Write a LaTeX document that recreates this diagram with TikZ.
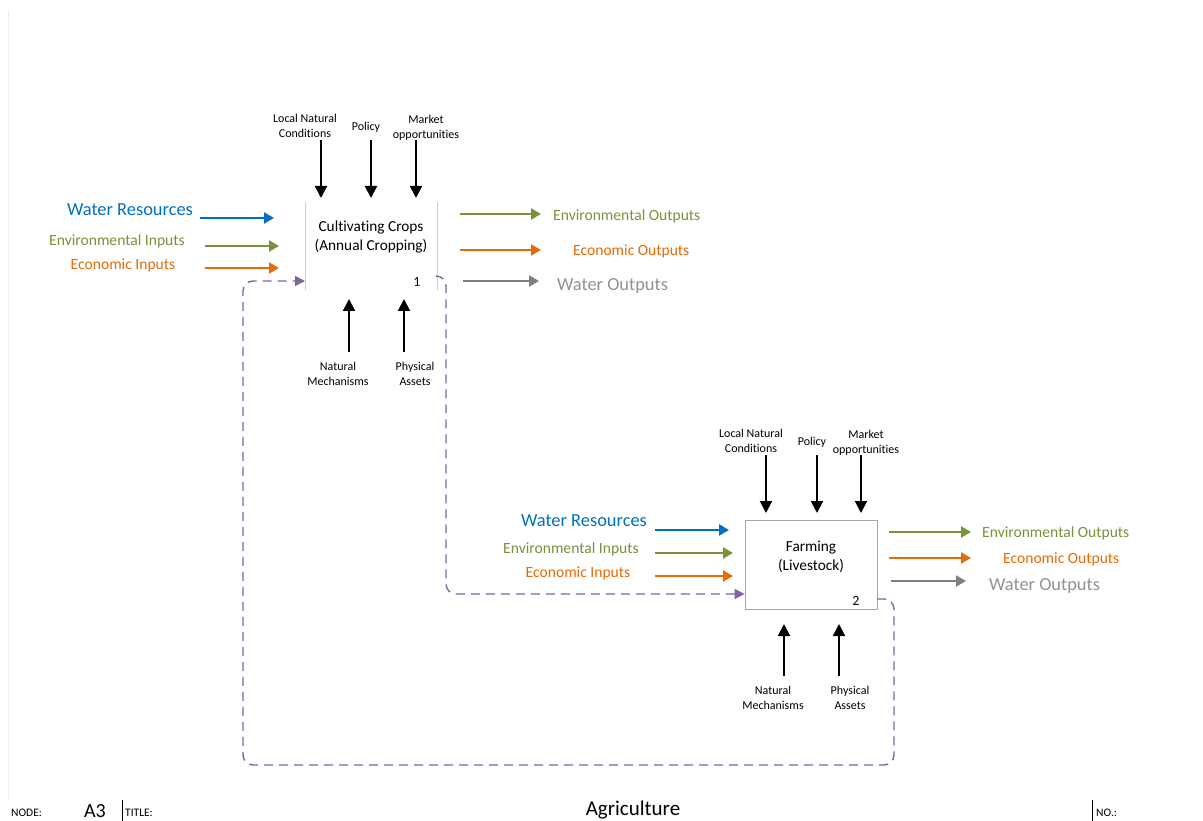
\documentclass[tikz,border=0pt]{standalone}
\usepackage{fontspec}
\setmainfont{Carlito}[Ligatures=NoCommon]
\usetikzlibrary{arrows.meta}
\definecolor{wblue}{HTML}{0070C0}
\definecolor{egreen}{HTML}{77933C}
\definecolor{eorange}{HTML}{E46C0A}
\definecolor{wgray}{HTML}{7F7F7F}
\definecolor{lpurple}{HTML}{8064A2}
\tikzset{
  lbl/.style={font=\fontsize{12}{15}\selectfont, align=center, inner sep=0pt, text=black},
  flowlbl/.style={font=\fontsize{15.6}{18}\selectfont, inner sep=0pt},
  waterlbl/.style={font=\fontsize{18.4}{21}\selectfont, inner sep=0pt},
  boxtext/.style={font=\fontsize{15.3}{19}\selectfont, align=center, inner sep=0pt},
  numtext/.style={font=\fontsize{14}{16}\selectfont, inner sep=0pt},
  mech/.style={line width=2pt, black, -{Triangle[length=12pt,width=12pt]}},
  flowarrow/.style={line width=2.4pt, -{Triangle[length=10pt,width=11pt]}},
  feedback/.style={line width=1.4pt, lpurple, dash pattern=on 9pt off 6pt, rounded corners=10pt, -{Triangle[length=10pt,width=10pt]}},
  foot/.style={font=\fontsize{11.5}{13}\selectfont, inner sep=0pt},
}
\begin{document}
\begin{tikzpicture}[x=1pt,y=-1pt]
\useasboundingbox[fill=white] (0,0) rectangle (1203,821);
% page frame edge
\draw[gray!15, line width=1pt] (8,10) -- (8,800);

% ---------- Activity 1 ----------
\node[boxtext] (b1text) at (371,237.5) {Cultivating Crops\\(Annual Cropping)};
\coordinate (b1tl) at (305,202);
\coordinate (b1bl) at (305,290);
\coordinate (b1tr) at (437,202);
\coordinate (b1br) at (437,290);
\draw[gray!40, line width=1pt] (b1tl) -- (b1bl);
\draw[gray!40, line width=1pt] (b1tr) -- (b1br);
\node[numtext] (b1num) at (417,282) {1};

% controls
\node[lbl] (c1a) at (305,125.5) {Local Natural\\Conditions};
\node[lbl] (c1b) at (366,127) {Policy};
\node[lbl] (c1c) at (426,127.5) {Market\\opportunities};
\coordinate (c1aS) at (321,140); \coordinate (c1aE) at (321,198);
\coordinate (c1bS) at (371,140); \coordinate (c1bE) at (371,198);
\coordinate (c1cS) at (416,140); \coordinate (c1cE) at (416,198);
\draw[mech] (c1aS) -- (c1aE);
\draw[mech] (c1bS) -- (c1bE);
\draw[mech] (c1cS) -- (c1cE);

% mechanisms
\node[lbl] (m1a) at (338,373.5) {Natural\\Mechanisms};
\node[lbl] (m1b) at (415,373.5) {Physical\\Assets};
\coordinate (m1aS) at (349,352); \coordinate (m1aE) at (349,299);
\coordinate (m1bS) at (404,352); \coordinate (m1bE) at (404,299);
\draw[mech] (m1aS) -- (m1aE);
\draw[mech] (m1bS) -- (m1bE);

% inputs
\node[waterlbl, text=wblue] (i1w) at (130,209.5) {Water Resources};
\node[flowlbl, text=egreen] (i1e) at (117,241.5) {Environmental Inputs};
\node[flowlbl, text=eorange] (i1o) at (123,265.5) {Economic Inputs};
\coordinate (i1wS) at (200,218); \coordinate (i1wE) at (274,218);
\coordinate (i1eS) at (205,246); \coordinate (i1eE) at (279,246);
\coordinate (i1oS) at (205,268); \coordinate (i1oE) at (279,268);
\draw[flowarrow, wblue] (i1wS) -- (i1wE);
\draw[flowarrow, egreen] (i1eS) -- (i1eE);
\draw[flowarrow, eorange] (i1oS) -- (i1oE);

% outputs
\node[flowlbl, text=egreen, anchor=west] (o1e) at (553,216.5) {Environmental Outputs};
\node[flowlbl, text=eorange, anchor=west] (o1o) at (573,251.5) {Economic Outputs};
\node[waterlbl, text=wgray!85, anchor=west] (o1w) at (557,286.5) {Water Outputs};
\coordinate (o1eS) at (460,214); \coordinate (o1eE) at (541,214);
\coordinate (o1oS) at (460,250); \coordinate (o1oE) at (541,250);
\coordinate (o1wS) at (463,281); \coordinate (o1wE) at (539,281);
\draw[flowarrow, egreen] (o1eS) -- (o1eE);
\draw[flowarrow, eorange] (o1oS) -- (o1oE);
\draw[flowarrow, wgray] (o1wS) -- (o1wE);

% ---------- Activity 2 ----------
\node[draw=gray!70, line width=0.8pt, minimum width=132pt, minimum height=89pt, inner sep=0pt] (box2) at (811,564.5) {};
\node[boxtext] (b2text) at (811,556.5) {Farming\\(Livestock)};
\node[numtext] (b2num) at (856,601) {2};

% controls
\node[lbl] (c2a) at (751,440.5) {Local Natural\\Conditions};
\node[lbl] (c2b) at (812,442) {Policy};
\node[lbl] (c2c) at (866,442.5) {Market\\opportunities};
\coordinate (c2aS) at (766,455); \coordinate (c2aE) at (766,513);
\coordinate (c2bS) at (817,455); \coordinate (c2bE) at (817,513);
\coordinate (c2cS) at (861,455); \coordinate (c2cE) at (861,513);
\draw[mech] (c2aS) -- (c2aE);
\draw[mech] (c2bS) -- (c2bE);
\draw[mech] (c2cS) -- (c2cE);

% mechanisms
\node[lbl] (m2a) at (773,697.5) {Natural\\Mechanisms};
\node[lbl] (m2b) at (850,697.5) {Physical\\Assets};
\coordinate (m2aS) at (784,676); \coordinate (m2aE) at (784,624);
\coordinate (m2bS) at (839,676); \coordinate (m2bE) at (839,624);
\draw[mech] (m2aS) -- (m2aE);
\draw[mech] (m2bS) -- (m2bE);

% inputs
\node[waterlbl, text=wblue] (i2w) at (584,520.5) {Water Resources};
\node[flowlbl, text=egreen] (i2e) at (571,549.5) {Environmental Inputs};
\node[flowlbl, text=eorange] (i2o) at (578,573.5) {Economic Inputs};
\coordinate (i2wS) at (655,530); \coordinate (i2wE) at (729,530);
\coordinate (i2eS) at (655,553); \coordinate (i2eE) at (733,553);
\coordinate (i2oS) at (655,576); \coordinate (i2oE) at (733,576);
\draw[flowarrow, wblue] (i2wS) -- (i2wE);
\draw[flowarrow, egreen] (i2eS) -- (i2eE);
\draw[flowarrow, eorange] (i2oS) -- (i2oE);

% outputs
\node[flowlbl, text=egreen, anchor=west] (o2e) at (982,533.5) {Environmental Outputs};
\node[flowlbl, text=eorange, anchor=west] (o2o) at (1003,559.5) {Economic Outputs};
\node[waterlbl, text=wgray!85, anchor=west] (o2w) at (989,586.5) {Water Outputs};
\coordinate (o2eS) at (889,532); \coordinate (o2eE) at (971,532);
\coordinate (o2oS) at (889,558); \coordinate (o2oE) at (971,558);
\coordinate (o2wS) at (891,581); \coordinate (o2wE) at (966,581);
\draw[flowarrow, egreen] (o2eS) -- (o2eE);
\draw[flowarrow, eorange] (o2oS) -- (o2oE);
\draw[flowarrow, wgray] (o2wS) -- (o2wE);

% ---------- feedback loops ----------
\coordinate (fb1S) at (437,276);
\coordinate (fb2S) at (877,599);
\draw[feedback] (fb1S) -- (446,276) -- (446,594) -- (box2.west |- 0,594);
\draw[feedback] (fb2S) -- (894,599) -- (894,765) -- (243,765) -- (243,281) -- (b1bl |- 0,281);

% ---------- title block ----------
\node[foot, anchor=west] (fnode) at (11,813) {NODE:};
\node[font=\fontsize{20}{22}\selectfont, inner sep=0pt] (fa3) at (95,811) {A3};
\draw[black, line width=0.6pt] (122,800) -- (122,821);
\node[foot, anchor=west] (ftitle) at (125,813) {TITLE:};
\node[font=\fontsize{21}{24}\selectfont, inner sep=0pt] (fagri) at (633,810.5) {Agriculture};
\draw[black, line width=0.6pt] (1092,800) -- (1092,821);
\node[foot, anchor=west] (fno) at (1096,813) {NO.:};
\end{tikzpicture}
\end{document}
